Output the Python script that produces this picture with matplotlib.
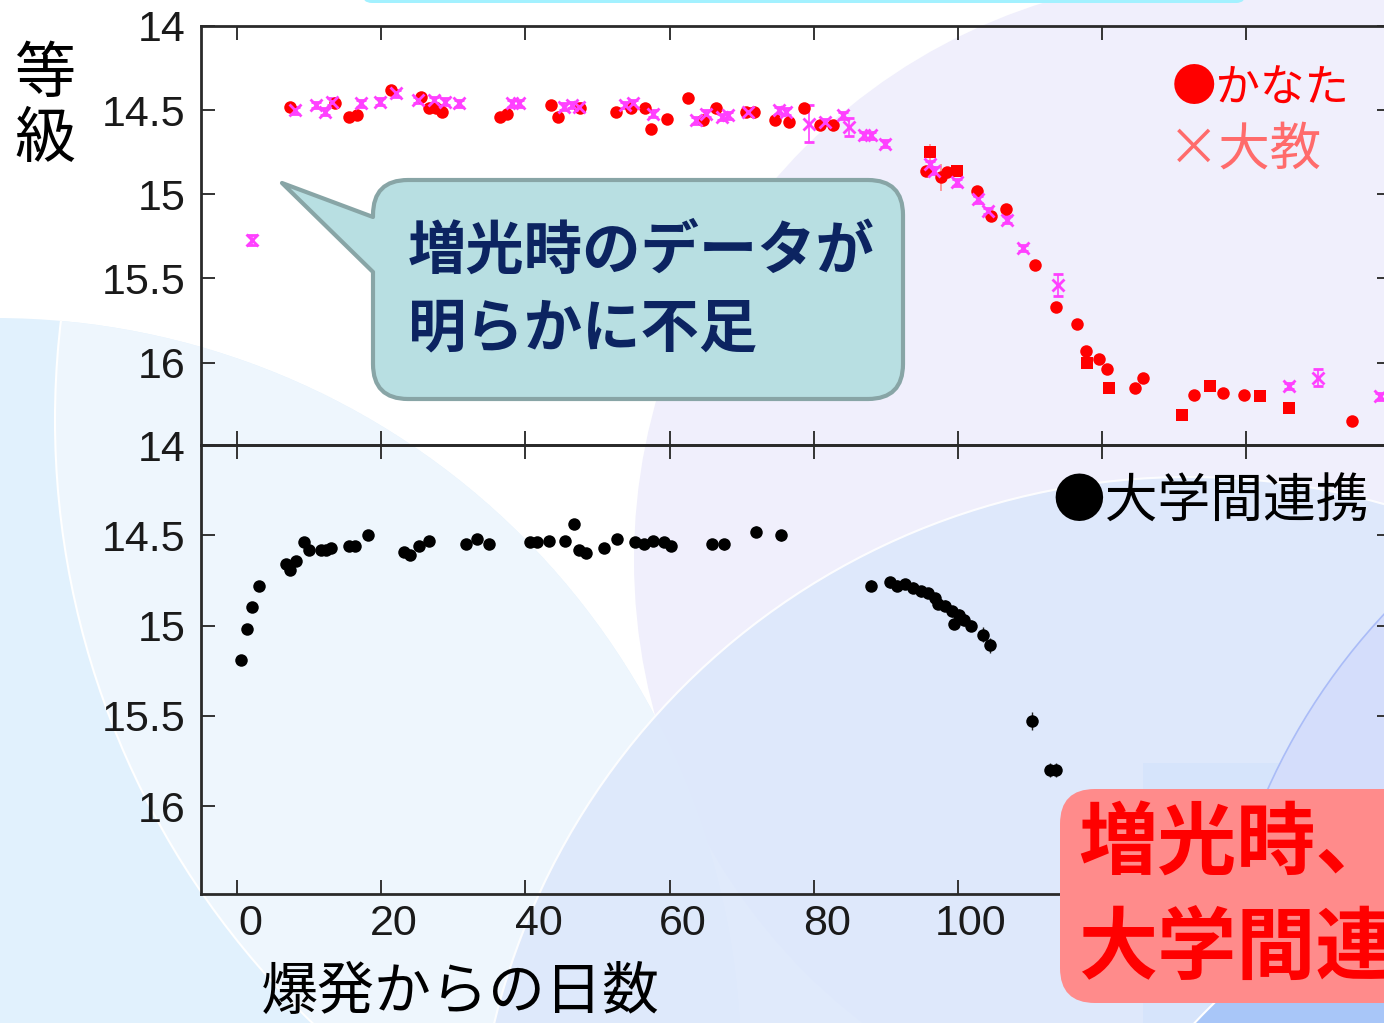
import matplotlib
matplotlib.use('Agg')
import matplotlib.pyplot as plt
import matplotlib.transforms as mtransforms
from matplotlib.patches import Circle, FancyBboxPatch, Rectangle, PathPatch
from matplotlib.path import Path

# --- data (days since outburst, magnitude) ---
kanata_day = [7.4, 13.6, 15.5, 16.6, 21.4, 25.5, 26.6, 27.6, 28.5, 36.5,
              37.5, 43.5, 44.5, 47.6, 52.5, 54.6, 56.6, 57.4, 59.6, 62.5,
              64.7, 66.5, 70.6, 71.7, 74.6, 76.5, 78.7, 80.8, 82.7, 95.6,
              97.6, 98.5, 102.6, 104.6, 106.6, 110.7, 113.6, 116.5, 117.7, 119.6,
              120.6, 124.6, 125.7, 132.7, 136.7, 139.7, 154.7]
kanata_mag = [14.48, 14.46, 14.54, 14.53, 14.38, 14.42, 14.49, 14.49, 14.51, 14.54,
              14.52, 14.47, 14.54, 14.49, 14.51, 14.49, 14.49, 14.61, 14.55, 14.43,
              14.56, 14.49, 14.51, 14.51, 14.56, 14.57, 14.49, 14.59, 14.59, 14.86,
              14.90, 14.87, 14.98, 15.13, 15.09, 15.42, 15.67, 15.77, 15.93, 15.98,
              16.04, 16.15, 16.09, 16.19, 16.18, 16.19, 16.35]
kanata_err = [0.01, 0.01, 0.01, 0.01, 0.01, 0.01, 0.01, 0.01, 0.01, 0.01,
              0.01, 0.01, 0.01, 0.01, 0.01, 0.01, 0.01, 0.01, 0.01, 0.01,
              0.01, 0.01, 0.01, 0.01, 0.01, 0.01, 0.01, 0.01, 0.01, 0.01,
              0.08, 0.01, 0.01, 0.01, 0.01, 0.01, 0.01, 0.01, 0.01, 0.01,
              0.01, 0.01, 0.01, 0.01, 0.02, 0.01, 0.01]

kanata_sq_day = [96.1, 99.8, 117.9, 120.9, 131.0, 134.9, 141.9, 145.9]
kanata_sq_mag = [14.75, 14.86, 16.00, 16.15, 16.31, 16.14, 16.20, 16.27]
kanata_sq_err = [0.05, 0.02, 0.02, 0.02, 0.02, 0.02, 0.02, 0.02]

daikyo_day = [2.1, 8.0, 11.0, 12.2, 13.2, 17.2, 19.9, 22.1, 25.1, 27.3,
              28.8, 30.8, 38.2, 39.1, 45.4, 46.4, 47.4, 53.8, 54.9, 57.7,
              63.6, 65.0, 67.2, 68.1, 70.9, 75.2, 76.2, 79.3, 81.5, 84.0,
              84.9, 87.0, 88.0, 89.9, 96.1, 96.7, 99.9, 102.8, 104.1, 106.8,
              109.0, 113.9, 145.9, 149.9, 158.5]
daikyo_mag = [15.27, 14.50, 14.47, 14.51, 14.45, 14.46, 14.45, 14.40, 14.44, 14.44,
              14.45, 14.46, 14.46, 14.46, 14.48, 14.47, 14.48, 14.47, 14.46, 14.52,
              14.56, 14.52, 14.54, 14.53, 14.51, 14.50, 14.51, 14.58, 14.57, 14.53,
              14.60, 14.65, 14.65, 14.70, 14.82, 14.86, 14.93, 15.03, 15.10, 15.15,
              15.32, 15.54, 16.14, 16.09, 16.20]
daikyo_err = [0.03, 0.02, 0.02, 0.02, 0.02, 0.02, 0.02, 0.02, 0.02, 0.02,
              0.02, 0.02, 0.02, 0.02, 0.02, 0.02, 0.02, 0.02, 0.02, 0.02,
              0.02, 0.02, 0.02, 0.02, 0.02, 0.02, 0.02, 0.11, 0.02, 0.02,
              0.055, 0.02, 0.02, 0.02, 0.02, 0.02, 0.02, 0.02, 0.02, 0.02,
              0.02, 0.065, 0.02, 0.05, 0.02]

renkei_day = [0.5, 1.4, 2.1, 3.0, 6.8, 7.4, 8.2, 9.3, 10.0, 11.6,
              12.3, 13.0, 15.6, 16.4, 18.2, 23.2, 24.0, 25.3, 26.6, 31.8,
              33.3, 34.9, 40.7, 41.6, 43.3, 45.5, 46.8, 47.5, 48.4, 50.9,
              52.7, 55.2, 56.4, 57.7, 59.2, 60.2, 65.9, 67.5, 72.0, 75.4,
              88.0, 90.6, 91.5, 92.6, 93.8, 94.9, 95.9, 96.8, 97.2, 98.2,
              99.1, 99.5, 100.2, 100.9, 101.8, 103.5, 104.4, 110.3, 112.7, 113.6]
renkei_mag = [15.19, 15.02, 14.90, 14.78, 14.66, 14.69, 14.64, 14.54, 14.58, 14.58,
              14.58, 14.57, 14.56, 14.56, 14.50, 14.59, 14.61, 14.56, 14.53, 14.55,
              14.52, 14.55, 14.54, 14.54, 14.53, 14.53, 14.44, 14.58, 14.60, 14.57,
              14.52, 14.54, 14.55, 14.53, 14.54, 14.56, 14.55, 14.55, 14.48, 14.50,
              14.78, 14.76, 14.78, 14.77, 14.79, 14.81, 14.82, 14.85, 14.88, 14.89,
              14.92, 14.99, 14.94, 14.97, 15.00, 15.05, 15.11, 15.53, 15.80, 15.80]
renkei_err = [0.02, 0.02, 0.02, 0.02, 0.02, 0.02, 0.02, 0.02, 0.02, 0.02,
              0.02, 0.02, 0.02, 0.02, 0.02, 0.02, 0.02, 0.02, 0.02, 0.02,
              0.02, 0.02, 0.02, 0.02, 0.02, 0.02, 0.02, 0.02, 0.02, 0.02,
              0.02, 0.02, 0.02, 0.02, 0.02, 0.02, 0.02, 0.03, 0.03, 0.03,
              0.03, 0.03, 0.03, 0.03, 0.03, 0.03, 0.03, 0.03, 0.03, 0.03,
              0.03, 0.03, 0.03, 0.03, 0.03, 0.04, 0.04, 0.05, 0.04, 0.04]

x_ticks = [0, 20, 40, 60, 80, 100, 120, 140]
# 120 and 140 sit under the red message box in the slide
x_tick_labels = ['0', '20', '40', '60', '80', '100', '', '']
y_ticks = [14, 14.5, 15, 15.5, 16]
y_tick_labels = ['14', '14.5', '15', '15.5', '16']

JP = ['Noto Sans CJK JP', 'DejaVu Sans']
W, H = 1384, 1023

fig = plt.figure(figsize=(W / 100, H / 100), dpi=100)
fig.patch.set_facecolor('white')


def px_rect(x0, y0, x1, y1):
    return [x0 / W, 1 - y1 / H, (x1 - x0) / W, (y1 - y0) / H]


# --- slide background (overlapping circles) ---
bg = fig.add_axes([0, 0, 1, 1], zorder=0)
bg.set_xlim(0, W)
bg.set_ylim(H, 0)
bg.axis('off')

bg.add_patch(Circle((1218, 560), 584, fc='#f0effc', ec='none'))
c_light = Circle((-5, 1064), 746, fc='#e1f1fd', ec='none')
bg.add_patch(c_light)
c_inner = Circle((890, 420), 835, fc='#eef6fd', ec='white', lw=1.5)
bg.add_patch(c_inner)
c_inner.set_clip_path(c_light)
bg.add_patch(Circle((1189, 1192), 715, fc='#dde8fb', ec='white', lw=1.5, alpha=0.9))
bg.add_patch(Rectangle((1143, 763), 300, 300, fc='#cfe2fb', ec='none', alpha=0.5))
bg.add_patch(Circle((1850, 1050), 638, fc='#d4ddfb', ec='#aabcf7', lw=1.2))
bg.add_patch(Circle((1700, 1500), 695, fc='#a8c6f8', ec='white', lw=1.5))
bg.add_patch(FancyBboxPatch((362, -30), 884, 33, boxstyle='round,pad=0,rounding_size=10',
                            fc='#a3f1ff', ec='none'))

# --- light-curve panels ---
x_left = 237 - 5 * 7.21
x_right = 237 + 160 * 7.21
ax1 = fig.add_axes(px_rect(x_left, 26, x_right, 445), zorder=2)
ax2 = fig.add_axes(px_rect(x_left, 445, x_right, 894), zorder=2)

for ax in (ax1, ax2):
    ax.set_facecolor('none')
    ax.set_xlim(-5, 160)
    ax.set_xticks(x_ticks)
    ax.set_yticks(y_ticks)
    ax.set_yticklabels(y_tick_labels, family='Liberation Sans', fontsize=31, color='#1a1a1a')
    ax.tick_params(direction='in', length=10, width=1.4, color='#333333',
                   top=True, right=True, pad=11)
    for s in ax.spines.values():
        s.set_color('#2a2a2a')
        s.set_linewidth(2)

ax1.set_ylim(16.49, 14)
ax2.set_ylim(16.487, 14)
ax1.tick_params(labelbottom=False)
ax2.set_xticklabels(x_tick_labels, family='Liberation Sans', fontsize=31, color='#1a1a1a')
ax2.tick_params(axis='x', pad=7)
shift = mtransforms.ScaledTranslation(0.13, 0, fig.dpi_scale_trans)
for lab in ax2.get_xticklabels():
    lab.set_transform(lab.get_transform() + shift)

ax1.errorbar(kanata_day, kanata_mag, yerr=kanata_err, fmt='o', color='#ff0000',
             ecolor='#ff8c8c', ms=9, mew=0, capsize=4, elinewidth=1.2)
ax1.errorbar(kanata_sq_day, kanata_sq_mag, yerr=kanata_sq_err, fmt='s', color='#ff0000',
             ecolor='#ff8c8c', ms=8.5, mew=0, capsize=4, elinewidth=1.2)
ax1.errorbar(daikyo_day, daikyo_mag, yerr=daikyo_err, fmt='x', color='#ff40ff',
             ms=8, mew=2, capsize=3.5, elinewidth=1.2)

ax2.errorbar(renkei_day, renkei_mag, yerr=renkei_err, fmt='o', color='black',
             ecolor='#222222', ms=9, mew=0, capsize=3, elinewidth=1)

# --- annotations on top ---
ov = fig.add_axes([0, 0, 1, 1], zorder=10)
ov.set_xlim(0, W)
ov.set_ylim(H, 0)
ov.axis('off')

ov.text(45, 75, '等', family=JP, fontsize=44, ha='center', va='center', color='black')
ov.text(45, 140, '級', family=JP, fontsize=44, ha='center', va='center', color='black')
ov.text(460, 993, '爆発からの日数', family=JP, fontsize=41, ha='center', va='center',
        color='black')

ov.text(1172, 88, '●かなた', family=JP, fontsize=32, ha='left', va='center', color='#ff0000')
ov.text(1168, 150, '×大教', family=JP, fontsize=37, ha='left', va='center', color='#ff6b6b')
ov.text(1052, 502, '●大学間連携', family=JP, fontsize=38, ha='left', va='center',
        color='black')

# speech bubble
x0, y0, x1, y1, r = 373, 180, 903, 399, 35
verts = [(x0 + r, y0), (x1 - r, y0), (x1, y0), (x1, y0 + r), (x1, y1 - r),
         (x1, y1), (x1 - r, y1), (x0 + r, y1), (x0, y1), (x0, y1 - r),
         (x0, 272), (282, 183), (x0, 217), (x0, y0 + r), (x0, y0), (x0 + r, y0),
         (x0 + r, y0)]
codes = [Path.MOVETO, Path.LINETO, Path.CURVE3, Path.CURVE3, Path.LINETO,
         Path.CURVE3, Path.CURVE3, Path.LINETO, Path.CURVE3, Path.CURVE3,
         Path.LINETO, Path.LINETO, Path.LINETO, Path.LINETO, Path.CURVE3, Path.CURVE3,
         Path.CLOSEPOLY]
ov.add_patch(PathPatch(Path(verts, codes), fc='#b8dfe2', ec='#88a5a6', lw=3,
                       joinstyle='round'))
ov.text(408, 252, '増光時のデータが', family=JP, fontsize=42, fontweight='bold',
        ha='left', va='center', color='#0c2461')
ov.text(408, 329, '明らかに不足', family=JP, fontsize=42, fontweight='bold',
        ha='left', va='center', color='#0c2461')

# red message box (runs off the right edge of the slide)
ov.add_patch(FancyBboxPatch((1060, 789), 420, 214, boxstyle='round,pad=0,rounding_size=35',
                            fc='#ff8b8b', ec='none'))
ov.text(1078, 845, '増光時、', family=JP, fontsize=57, fontweight='bold',
        ha='left', va='center', color='#ff0000')
ov.text(1078, 950, '大学間連携', family=JP, fontsize=57, fontweight='bold',
        ha='left', va='center', color='#ff0000')

fig.savefig('out.png', dpi=100)
